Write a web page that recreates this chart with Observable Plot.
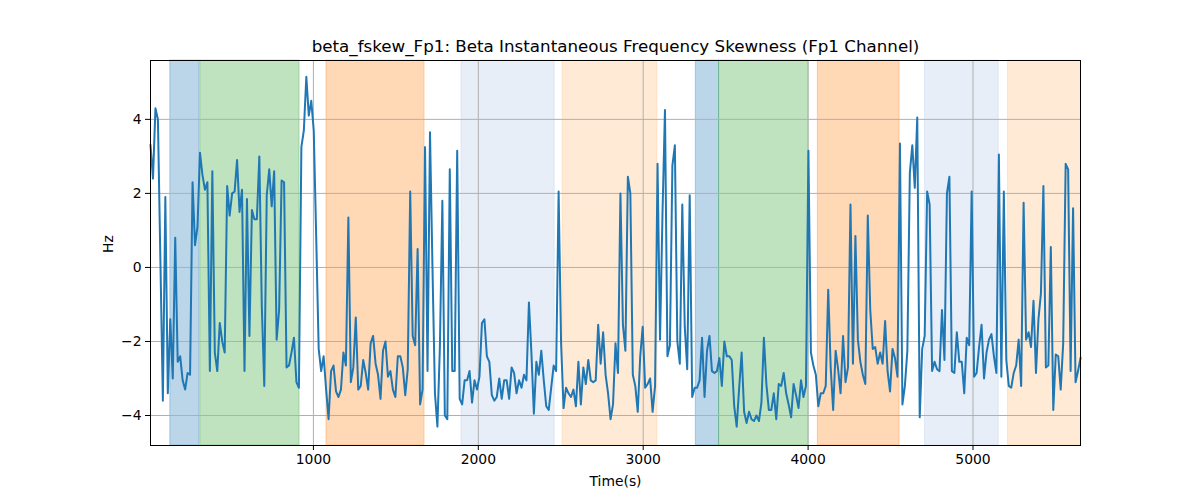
<!DOCTYPE html>
<html>
<head>
<meta charset="utf-8">
<script src="https://cdn.jsdelivr.net/npm/d3@7"></script>
<script src="https://cdn.jsdelivr.net/npm/@observablehq/plot@0.6"></script>
<style>
  html, body { margin: 0; padding: 0; background: #fff; }
  #chart { width: 1200px; height: 500px; }
</style>
</head>
<body>
<div id="chart"></div>
<script>
// Beta instantaneous frequency skewness (Hz), regular samples
const startTime = 12;
const sampleStep = 15;
const skew = [
  3.3, 2.4, 4.3, 4.0, 0.2, -3.6, 1.9, -3.4, -1.4, -3.0,
  0.8, -2.55, -2.4, -3.05, -3.3, -2.85, -2.9, 2.3, 0.6, 1.1,
  3.1, 2.5, 2.1, 2.3, -2.8, 2.6, -2.3, -2.8, -1.5, -2.0,
  -2.3, 2.2, 1.4, 2.0, 2.05, 2.9, 1.5, 2.1, -2.8, 1.85,
  -1.85, 1.55, 1.3, 1.3, 3.0, -1.05, -3.2, 1.95, 2.65, 1.65,
  2.6, -1.95, -1.15, 2.35, 2.3, -2.7, -2.65, -2.3, -1.9, -3.1,
  -3.25, 3.25, 3.7, 5.15, 4.1, 4.5, 3.7, 0.8, -2.2, -2.8,
  -2.4, -3.3, -4.1, -2.8, -2.65, -3.35, -3.5, -3.3, -2.3, -2.65,
  1.35, -3.1, -2.7, -1.35, -3.3, -3.2, -2.5, -2.85, -3.3, -2.05,
  -1.85, -2.6, -2.9, -3.55, -2.25, -2.0, -2.95, -2.8, -3.3, -3.5,
  -2.4, -2.4, -2.7, -3.45, -2.75, 2.05, -1.85, -2.1, 0.5, -3.7,
  -3.3, 3.25, -2.8, 3.65, 0.0, -3.4, -4.3, -2.15, 1.8, -4.0,
  -4.1, 2.65, -2.8, -2.8, 3.15, -3.55, -3.7, -3.05, -3.05, -2.8,
  -3.65, -3.05, -3.3, -2.95, -1.5, -1.4, -2.4, -2.55, -3.45, -3.6,
  -3.5, -3.0, -3.55, -3.05, -3.05, -3.55, -2.7, -2.85, -3.4, -3.05,
  -3.25, -2.9, -3.05, -0.95, -2.3, -3.95, -2.55, -2.9, -2.25, -3.05,
  -3.75, -3.85, -3.25, -2.65, -2.8, 2.05, -2.05, -3.8, -3.25, -3.4,
  -3.5, -3.3, -3.75, -2.55, -3.7, -2.7, -3.15, -2.5, -3.05, -3.1,
  -3.05, -1.55, -2.6, -1.75, -2.9, -3.4, -4.1, -3.7, -2.05, -2.85,
  2.0, -1.55, -2.25, 2.45, 2.0, -2.9, -3.2, -3.9, -2.4, -1.6,
  -3.25, -3.15, -3.0, -3.9, -3.2, 2.8, -1.95, 1.45, 4.25, -2.4,
  -2.1, 2.75, 3.3, -2.0, -2.6, 1.7, -1.6, -2.75, 1.95, -3.5,
  -3.25, -3.25, -3.05, -1.9, -3.5, -2.25, -1.85, -2.8, -2.85, -2.8,
  -2.45, -3.2, -2.0, -2.4, -2.4, -2.5, -3.75, -4.3, -3.25, -2.3,
  -3.9, -4.2, -3.9, -4.1, -4.15, -4.0, -4.15, -3.65, -1.9, -3.15,
  -3.85, -3.85, -3.4, -4.1, -3.15, -3.2, -2.85, -3.4, -3.7, -4.05,
  -3.15, -3.45, -3.8, -3.05, -3.5, -3.2, 3.15, -2.3, -2.65, -2.9,
  -3.75, -3.4, -3.4, -3.2, -0.6, -2.7, -3.85, -2.25, -2.75, -3.4,
  -1.85, -3.1, -2.7, 1.7, -2.6, 0.85, -1.95, -2.55, -2.9, -3.15,
  1.4, -1.15, -2.2, -2.15, -2.6, -2.3, -2.6, -1.45, -2.8, -3.35,
  -2.2, -2.45, -2.95, 3.35, -3.7, -3.2, -2.25, 2.55, 3.3, 2.15,
  4.05, -4.05, -2.2, -1.85, 2.05, 1.7, -2.8, -2.55, -2.75, -2.8,
  -1.15, -2.5, 2.0, 2.45, -2.8, -2.85, -1.75, -2.55, -2.55, -3.4,
  -1.9, -2.1, 2.05, -2.95, -2.85, -2.15, -1.55, -3.0, -2.3, -1.95,
  -1.8, -2.4, -2.85, 3.05, -2.95, 2.05, -2.5, -3.2, -3.25, -2.85,
  -2.65, -1.95, -3.2, 1.75, -1.95, -1.75, -2.15, -0.9, -2.85, -1.4,
  -0.7, 2.2, -2.7, -2.65, 0.55, -3.85, -2.35, -2.4, -3.3, -2.05,
  2.8, 2.65, -2.8, 1.6, -3.1, -2.8, -2.45
];

// Shaded intervals
const spanStart = [132, 314, 1079, 1898, 2511, 3319, 3460, 4059, 4709, 5212];
const spanEnd   = [309, 916, 1674, 2463, 3086, 3460, 4003, 4555, 5156, 5656];
const spanColor = ["#1f77b4", "#2ca02c", "#ff7f0e", "#aec7e8", "#ffbb78",
                   "#1f77b4", "#2ca02c", "#ff7f0e", "#aec7e8", "#ffbb78"];

const xTicks = [1000, 2000, 3000, 4000, 5000];
const yTicks = [-4, -2, 0, 2, 4];

const titleText = "beta_fskew_Fp1: Beta Instantaneous Frequency Skewness (Fp1 Channel)";
const xLabel = "Time(s)";
const yLabel = "Hz";

const series = skew.map((v, i) => ({t: startTime + i * sampleStep, v}));
const spans = spanStart.map((s, i) => ({start: s, end: spanEnd[i], color: spanColor[i]}));
const tEnd = startTime + (skew.length - 1) * sampleStep;

const font = "'DejaVu Sans', sans-serif";

const chart = Plot.plot({
  width: 1200,
  height: 500,
  marginLeft: 150,
  marginRight: 120,
  marginTop: 60,
  marginBottom: 55,
  style: {fontFamily: font, fontSize: "13.9px", background: "#fff", color: "#000"},
  x: {domain: [startTime, tEnd]},
  y: {domain: [-4.81, 5.59]},
  color: {type: "identity"},
  marks: [
    Plot.rect(spans, {x1: "start", x2: "end", fill: "color", fillOpacity: 0.3, stroke: "color", strokeOpacity: 0.3, strokeWidth: 1}),
    Plot.gridX(xTicks, {stroke: "#b0b0b0", strokeOpacity: 1, strokeWidth: 1}),
    Plot.gridY(yTicks, {stroke: "#b0b0b0", strokeOpacity: 1, strokeWidth: 1}),
    Plot.line(series, {x: "t", y: "v", stroke: "#1f77b4", strokeWidth: 2, strokeLinejoin: "round", strokeLinecap: "square"}),
    Plot.frame({stroke: "#000", strokeWidth: 1}),
    Plot.axisX({ticks: xTicks, tickSize: 5, tickPadding: 4, label: null, fontSize: 13.9, tickFormat: d3.format("d")}),
    Plot.axisY({ticks: yTicks, tickSize: 5, tickPadding: 4, label: null, fontSize: 13.9, tickFormat: d => d < 0 ? "\u2212" + Math.abs(d) : String(d)}),
    Plot.text([titleText], {frameAnchor: "top", dy: -14, fontSize: 16.7, lineAnchor: "middle", fill: "#000"}),
    Plot.text([xLabel], {frameAnchor: "bottom", dy: 36, fontSize: 13.9, lineAnchor: "middle", fill: "#000"}),
    Plot.text([yLabel], {frameAnchor: "left", dx: -42, rotate: -90, fontSize: 13.9, lineAnchor: "middle", fill: "#000"})
  ]
});
document.getElementById("chart").appendChild(chart);
</script>
</body>
</html>
